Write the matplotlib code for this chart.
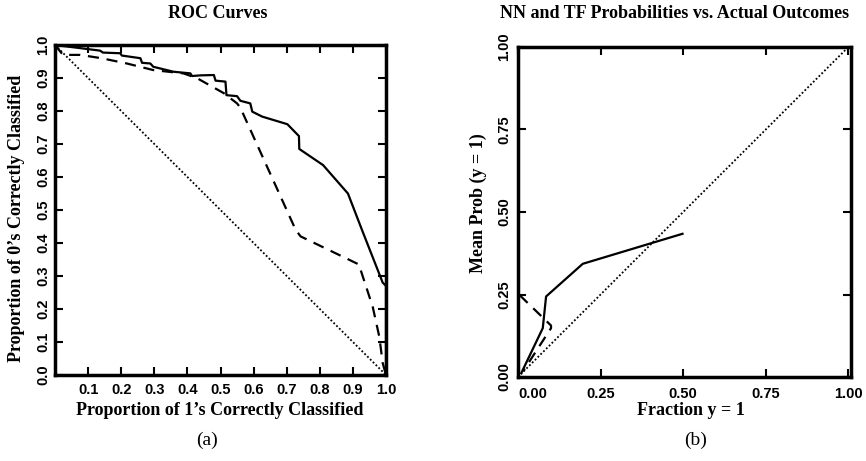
import matplotlib
matplotlib.use("Agg")
import matplotlib.pyplot as plt

# ROC curves (panel a)
roc_nn_x = [0.0, 0.136, 0.145, 0.197, 0.202, 0.258, 0.263, 0.288, 0.297, 0.358, 0.409,
            0.414, 0.44, 0.48, 0.485, 0.515, 0.518, 0.55, 0.56, 0.59, 0.596, 0.626,
            0.702, 0.737, 0.738, 0.81, 0.885, 0.93, 0.99, 1.0, 1.0]
roc_nn_y = [1.0, 0.983, 0.977, 0.975, 0.968, 0.96, 0.946, 0.944, 0.934, 0.919, 0.914,
            0.906, 0.908, 0.909, 0.892, 0.889, 0.848, 0.845, 0.831, 0.823, 0.798, 0.783,
            0.76, 0.724, 0.685, 0.636, 0.55, 0.433, 0.28, 0.27, 0.0]
roc_tf_x = [0.0, 0.024, 0.076, 0.14, 0.217, 0.297, 0.388, 0.43, 0.51, 0.55, 0.56,
            0.727, 0.742, 0.918, 0.96, 0.98, 0.99, 1.0]
roc_tf_y = [1.0, 0.97, 0.97, 0.96, 0.944, 0.924, 0.914, 0.899, 0.854, 0.823, 0.81,
            0.44, 0.42, 0.335, 0.206, 0.115, 0.036, 0.0]
diag_a_x = [0.0, 1.0]
diag_a_y = [1.0, 0.0]

# calibration curves (panel b)
cal_nn_x = [0.01, 0.075, 0.085, 0.196, 0.498]
cal_nn_y = [0.012, 0.148, 0.244, 0.343, 0.434]
cal_tf_x = [0.005, 0.10, 0.10, 0.015]
cal_tf_y = [0.248, 0.156, 0.148, 0.017]
diag_b = [0.0, 1.0]

ticks_a_x = [0.1, 0.2, 0.3, 0.4, 0.5, 0.6, 0.7, 0.8, 0.9, 1.0]
ticks_a_y = [0.0, 0.1, 0.2, 0.3, 0.4, 0.5, 0.6, 0.7, 0.8, 0.9, 1.0]
ticks_b = [0.0, 0.25, 0.5, 0.75, 1.0]

W, H = 866, 461
fig = plt.figure(figsize=(W / 100, H / 100), dpi=100)

SERIF = "Liberation Serif"
SANS = "Liberation Sans"
DOT = (0, (1, 1.2))
DASH = (0, (5, 3.5))


def px(x, y):
    return x / W, 1 - y / H


def style_axes(ax):
    for s in ax.spines.values():
        s.set_linewidth(2.5)
    ax.tick_params(direction="in", length=6, width=1.5, top=True, right=True)
    for lbl in ax.get_xticklabels() + ax.get_yticklabels():
        lbl.set_fontfamily(SANS)
        lbl.set_fontweight("bold")
        lbl.set_fontsize(10.5)
    for lbl in ax.get_yticklabels():
        lbl.set_rotation(90)
        lbl.set_va("center")


# panel a
ax1 = fig.add_axes([55 / W, 1 - 375 / H, 331 / W, 330 / H])
ax1.plot(diag_a_x, diag_a_y, color="black", lw=1.3, ls=DOT)
ax1.plot(roc_tf_x, roc_tf_y, color="black", lw=1.6, ls=DASH)
ax1.plot(roc_nn_x, roc_nn_y, color="black", lw=1.6)
ax1.set_xlim(0, 1)
ax1.set_ylim(0, 1)
ax1.set_xticks(ticks_a_x)
ax1.set_yticks(ticks_a_y)
ax1.set_xticklabels([f"{t:.1f}" for t in ticks_a_x])
ax1.set_yticklabels([f"{t:.1f}" for t in ticks_a_y])
ax1.tick_params(axis="x", pad=6)
ax1.tick_params(axis="y", pad=3.5)
style_axes(ax1)

# panel b
ax2 = fig.add_axes([518 / W, 1 - 377 / H, 333 / W, 330 / H])
ax2.plot(diag_b, diag_b, color="black", lw=1.3, ls=DOT)
ax2.plot(cal_tf_x, cal_tf_y, color="black", lw=1.6, ls=DASH)
ax2.plot(cal_nn_x, cal_nn_y, color="black", lw=1.6)
ax2.set_xlim(0, 1.008)
ax2.set_ylim(0, 1.0)
ax2.set_xticks(ticks_b)
ax2.set_yticks(ticks_b)
ax2.set_xticklabels([f"{t:.2f}" for t in ticks_b])
ax2.set_yticklabels([f"{t:.2f}" for t in ticks_b])
ax2.tick_params(axis="x", pad=7)
ax2.tick_params(axis="y", pad=5)
style_axes(ax2)
ax2.get_xticklabels()[0].set_ha("left")

# titles, labels, captions
lab = dict(fontfamily=SERIF, fontweight="bold", fontsize=13, ha="center", va="center")
fig.text(*px(218, 14), "ROC Curves", **lab)
fig.text(*px(675, 14), "NN and TF Probabilities vs. Actual Outcomes", **lab)
fig.text(*px(220, 410), "Proportion of 1\u2019s Correctly Classified", **lab)
fig.text(*px(17, 218), "Proportion of 0\u2019s Correctly Classified", rotation=90, **lab)
fig.text(*px(691, 410), "Fraction y = 1", **lab)
fig.text(*px(478, 203), "Mean Prob (y = 1)", rotation=90, **lab)
cap = dict(fontfamily=SERIF, fontsize=14, ha="center", va="center")
fig.text(*px(207, 440), "(a)", **cap)
fig.text(*px(696, 440), "(b)", **cap)

fig.savefig("out.png", dpi=100)
